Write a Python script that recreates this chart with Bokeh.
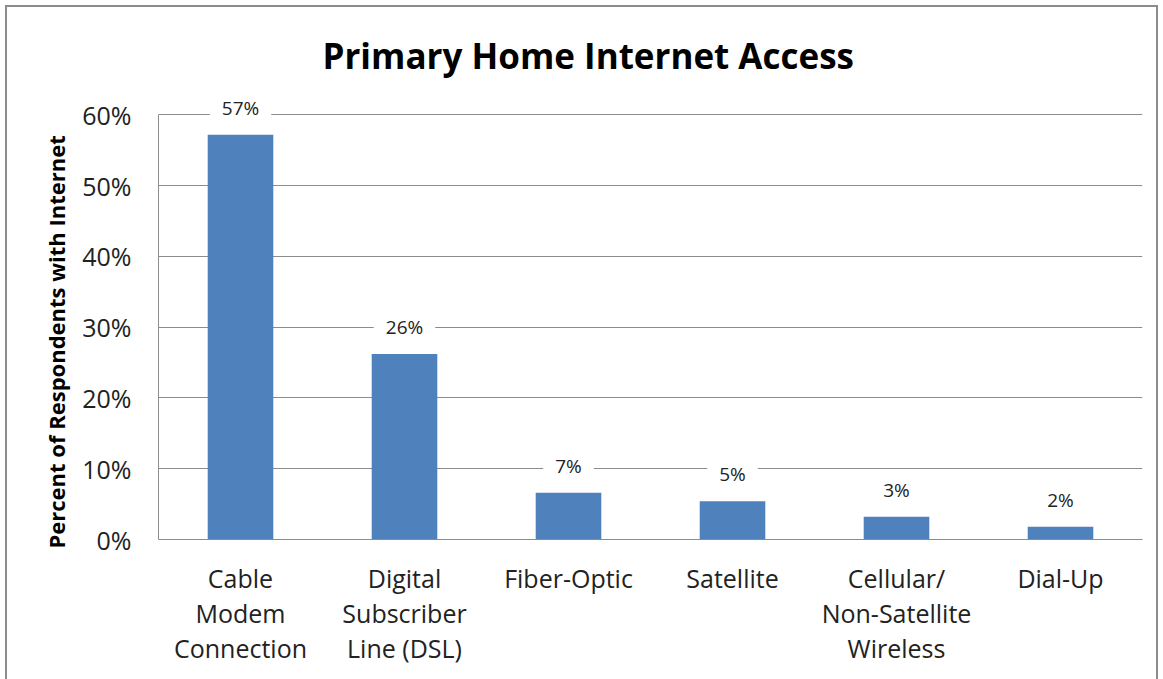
from bokeh.plotting import figure
from bokeh.models import ColumnDataSource, NumeralTickFormatter, FixedTicker, Title, Range1d
from bokeh.core.properties import value
from bokeh.embed import file_html
from bokeh.resources import INLINE

categories = ["Cable\nModem\nConnection", "Digital\nSubscriber\nLine (DSL)", "Fiber-Optic",
              "Satellite", "Cellular/\nNon-Satellite\nWireless", "Dial-Up"]
shares = [0.572, 0.262, 0.066, 0.054, 0.032, 0.018]
labels = ["57%", "26%", "7%", "5%", "3%", "2%"]
y_ticks = [0.0, 0.1, 0.2, 0.3, 0.4, 0.5, 0.6]

FONT = "Open Sans"
GRAY = "#8c8c8c"

src = ColumnDataSource(dict(cat=categories, val=shares, lab=labels))

p = figure(x_range=categories, y_range=Range1d(0, 0.64), width=1153, height=690,
           output_backend="svg", toolbar_location=None,
           min_border_left=151, min_border_top=79, min_border_right=18, min_border_bottom=158)
p.styles = {"margin-left": "5px", "margin-top": "5px", "border": "2px solid #8c8c8c"}

p.vbar(x="cat", top="val", width=0.4, source=src, fill_color="#4F81BD", line_color=None)

p.text(x="cat", y="val", text="lab", source=src, text_align="center", text_baseline="bottom",
       y_offset=-14, text_font=value(FONT), text_font_size="19px", text_color="#222222",
       background_fill_color="white", background_fill_alpha=1.0,
       padding=dict(left=12, right=12, top=0, bottom=0))

p.title = Title(text="Primary Home Internet Access", align="left", offset=164, text_font=FONT,
                text_font_size="35px", text_font_style="bold", text_color="#000000")
p.title.standoff = 15

ylab = Title(text="Percent of Respondents with Internet", align="left", offset=-9, text_font=FONT,
             text_font_size="22px", text_font_style="bold", text_color="#000000", standoff=17)
p.add_layout(ylab, "left")

p.yaxis.ticker = FixedTicker(ticks=y_ticks)
p.yaxis.bounds = (0, 0.6)
p.yaxis.formatter = NumeralTickFormatter(format="0%")

for ax in (p.xaxis, p.yaxis):
    ax.major_label_text_font = FONT
    ax.major_label_text_font_size = "25px"
    ax.major_label_text_color = "#222222"
    ax.axis_line_color = GRAY
    ax.major_tick_line_color = None
    ax.minor_tick_line_color = None
p.yaxis.major_label_standoff = 21
p.xaxis.major_label_standoff = 15
p.xaxis.major_label_text_line_height = 1.03

p.xgrid.grid_line_color = None
p.ygrid.grid_line_color = GRAY
p.ygrid.grid_line_width = 1
p.outline_line_color = None
p.x_range.range_padding = 0

open("out.html", "w").write(file_html(p, INLINE))
